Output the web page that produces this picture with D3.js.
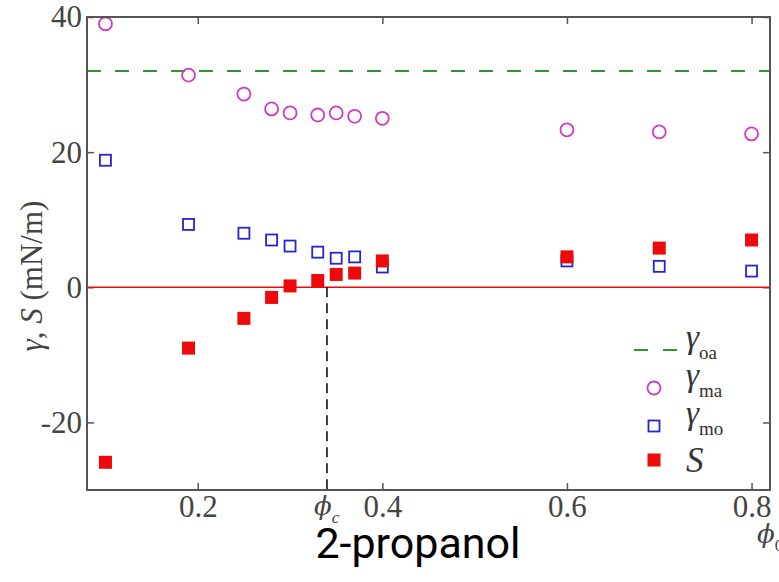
<!DOCTYPE html>
<html>
<head>
<meta charset="utf-8">
<script src="https://cdn.jsdelivr.net/npm/d3@7"></script>
<style>
  body { margin: 0; background: #fff; }
  svg { display: block; }
  .tick text { font-family: "Liberation Serif", serif; font-size: 31px; fill: #444; }
  .tick line { stroke: #555; stroke-width: 1.5; }
</style>
</head>
<body>
<div id="chart"></div>
<script>
// data
const phi      = [0.10, 0.19, 0.25, 0.28, 0.30, 0.33, 0.35, 0.37, 0.40, 0.60, 0.70, 0.80]
const gammaMA  = [39.0, 31.4, 28.6, 26.4, 25.8, 25.5, 25.8, 25.3, 25.0, 23.3, 23.0, 22.7]
const gammaMO  = [18.8, 9.3, 8.0, 7.0, 6.1, 5.2, 4.3, 4.5, 3.0, 3.9, 3.1, 2.4]
const spread   = [-25.9, -9.0, -4.6, -1.5, 0.2, 1.0, 1.9, 2.1, 3.9, 4.5, 5.8, 7.0]
const gammaOA  = 32.0
const phiC     = 0.34
const xTicks   = [0.2, 0.4, 0.6, 0.8]
const yTicks   = [-20, 0, 20, 40]

const W = 779, H = 582
const box = { left: 87, right: 770, top: 17, bottom: 490 }

const x = d3.scaleLinear().domain([0.08, 0.82]).range([box.left, box.right])
const y = d3.scaleLinear().domain([-30, 40]).range([box.bottom, box.top])

const svg = d3.select('#chart').append('svg')
  .attr('width', W).attr('height', H)

const serif = '"Liberation Serif", serif'
const phiFont = '"DejaVu Serif", serif'
const colors = { oa: '#2b9a2b', ma: '#d23ac6', mo: '#2424d8', s: '#ee0a0a' }

// axes, ticks pointing inward
svg.append('g').attr('transform', `translate(0,${box.bottom})`)
  .call(d3.axisBottom(x).tickValues(xTicks).tickFormat(d => d.toFixed(1))
    .tickSizeInner(-7).tickSizeOuter(0).tickPadding(5))
  .call(g => g.select('.domain').remove())
svg.append('g').attr('transform', `translate(0,${box.top})`)
  .call(d3.axisTop(x).tickValues(xTicks).tickFormat('')
    .tickSizeInner(-7).tickSizeOuter(0))
  .call(g => g.select('.domain').remove())
svg.append('g').attr('transform', `translate(${box.left},0)`)
  .call(d3.axisLeft(y).tickValues(yTicks).tickFormat(d => String(d))
    .tickSizeInner(-7).tickSizeOuter(0).tickPadding(5))
  .call(g => g.select('.domain').remove())
svg.append('g').attr('transform', `translate(${box.right},0)`)
  .call(d3.axisRight(y).tickValues(yTicks).tickFormat('')
    .tickSizeInner(-7).tickSizeOuter(0))
  .call(g => g.select('.domain').remove())

// zero line and gamma_oa
svg.append('line')
  .attr('x1', box.left).attr('x2', box.right)
  .attr('y1', y(0)).attr('y2', y(0))
  .attr('stroke', colors.s).attr('stroke-width', 1.5)
svg.append('line')
  .attr('x1', box.left).attr('x2', box.right)
  .attr('y1', y(gammaOA)).attr('y2', y(gammaOA))
  .attr('stroke', colors.oa).attr('stroke-width', 2)
  .attr('stroke-dasharray', '14,14')

// phi_c dashed line
svg.append('line')
  .attr('x1', x(phiC)).attr('x2', x(phiC))
  .attr('y1', y(0)).attr('y2', y(-30))
  .attr('stroke', '#111').attr('stroke-width', 1.6)
  .attr('stroke-dasharray', '10,6')

// markers
const pts = phi.map((p, i) => ({ p, ma: gammaMA[i], mo: gammaMO[i], s: spread[i] }))

svg.append('g').selectAll('circle').data(pts).join('circle')
  .attr('cx', d => x(d.p)).attr('cy', d => y(d.ma)).attr('r', 6.5)
  .attr('fill', 'none').attr('stroke', colors.ma).attr('stroke-width', 1.8)

svg.append('g').selectAll('rect').data(pts).join('rect')
  .attr('x', d => x(d.p) - 5.5).attr('y', d => y(d.mo) - 5.5)
  .attr('width', 11).attr('height', 11)
  .attr('fill', 'none').attr('stroke', colors.mo).attr('stroke-width', 1.8)

svg.append('g').selectAll('rect').data(pts).join('rect')
  .attr('x', d => x(d.p) - 6.5).attr('y', d => y(d.s) - 6.5)
  .attr('width', 13).attr('height', 13)
  .attr('fill', colors.s)

// frame
svg.append('rect')
  .attr('x', box.left).attr('y', box.top)
  .attr('width', box.right - box.left).attr('height', box.bottom - box.top)
  .attr('fill', 'none').attr('stroke', '#555').attr('stroke-width', 2)

// phi_c label under axis
const phiLab = svg.append('text')
  .attr('x', x(phiC) - 13).attr('y', 515)
  .attr('font-family', phiFont).attr('fill', '#444')
phiLab.append('tspan').attr('font-size', 26).attr('font-style', 'italic').text('ϕ')
phiLab.append('tspan').attr('font-family', serif).attr('font-size', 17)
  .attr('font-style', 'italic').attr('dy', 8).text('c')

// phi_0 at the bottom right, clipped by the page edge
const phi0 = svg.append('text')
  .attr('x', 757).attr('y', 543)
  .attr('font-family', phiFont).attr('fill', '#444')
phi0.append('tspan').attr('font-size', 26).attr('font-style', 'italic').text('ϕ')
phi0.append('tspan').attr('font-family', serif).attr('font-size', 17).attr('dy', 8).text('0')

// y label
const yLab = svg.append('text')
  .attr('transform', 'translate(42,276) rotate(-90)')
  .attr('text-anchor', 'middle')
  .attr('font-family', serif).attr('font-size', 31).attr('fill', '#444')
yLab.append('tspan').attr('font-style', 'italic').text('γ')
yLab.append('tspan').text(', ')
yLab.append('tspan').attr('font-style', 'italic').text('S')
yLab.append('tspan').text(' (mN/m)')

// title under the chart
svg.append('text')
  .attr('x', 418).attr('y', 558)
  .attr('text-anchor', 'middle')
  .attr('font-family', 'Roboto, sans-serif').attr('font-size', 43)
  .attr('fill', '#000')
  .text('2-propanol')

// legend
const legRows = [
  { key: 'oa', cy: 350, sub: 'oa' },
  { key: 'ma', cy: 388, sub: 'ma' },
  { key: 'mo', cy: 426, sub: 'mo' },
  { key: 's',  cy: 460, sub: null }
]
const leg = svg.append('g')
legRows.forEach(r => {
  if (r.key === 'oa') {
    leg.append('line')
      .attr('x1', 634).attr('x2', 677).attr('y1', r.cy).attr('y2', r.cy)
      .attr('stroke', colors.oa).attr('stroke-width', 2)
      .attr('stroke-dasharray', '14,15')
  } else if (r.key === 'ma') {
    leg.append('circle').attr('cx', 654).attr('cy', r.cy).attr('r', 6.5)
      .attr('fill', 'none').attr('stroke', colors.ma).attr('stroke-width', 1.8)
  } else if (r.key === 'mo') {
    leg.append('rect').attr('x', 654 - 5.5).attr('y', r.cy - 5.5)
      .attr('width', 11).attr('height', 11)
      .attr('fill', 'none').attr('stroke', colors.mo).attr('stroke-width', 1.8)
  } else {
    leg.append('rect').attr('x', 654 - 6.5).attr('y', r.cy - 6.5)
      .attr('width', 13).attr('height', 13).attr('fill', colors.s)
  }
  const t = leg.append('text').attr('x', 686)
    .attr('font-family', serif).attr('fill', '#333')
  if (r.sub) {
    t.attr('y', r.cy - 2)
    t.append('tspan').attr('font-size', 33).attr('font-style', 'italic').text('γ')
    t.append('tspan').attr('font-size', 19).attr('dy', 11).text(r.sub)
  } else {
    t.attr('y', r.cy + 12)
    t.append('tspan').attr('font-size', 35).attr('font-style', 'italic').text('S')
  }
})
</script>
</body>
</html>
